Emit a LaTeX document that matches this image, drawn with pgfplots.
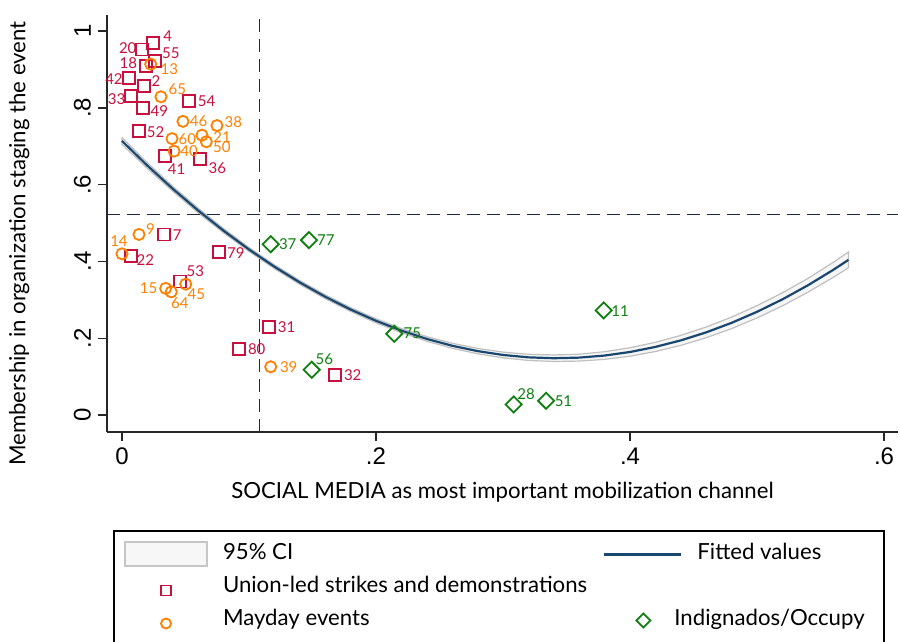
\documentclass[border=0pt]{standalone}
\usepackage{fontspec}
\setmainfont{Lato}
\newfontfamily\tickfont{Liberation Sans}
\usepackage{pgfplots}
\pgfplotsset{compat=1.18}
\usepackage{pgfplotstable}

\definecolor{cran}{RGB}{200,16,62}
\definecolor{orng}{RGB}{255,128,0}
\definecolor{grn}{RGB}{16,128,16}
\definecolor{navy}{RGB}{26,71,111}
\definecolor{dnavy}{RGB}{30,40,70}

\pgfplotstableread{
x y lab dx dy
0.0247 0.970 4 7.2 3.3
0.0160 0.952 20 -7.3 0.5
0.0262 0.922 55 7.8 3.8
0.0187 0.910 18 -8.7 1.2
0.0055 0.877 42 -7.5 -0.3
0.0173 0.858 2 6.0 2.2
0.0068 0.832 33 -7.0 -1.7
0.0525 0.818 54 9.0 0
0.0165 0.799 49 8.2 -1.5
0.0134 0.739 52 8.3 -0.5
0.0336 0.674 41 6.0 -6.5
0.0612 0.666 36 8.8 -4.5
0.0333 0.4705 7 6.5 -0.3
0.0071 0.415 22 7.2 -2.2
0.0766 0.4245 79 8.3 -0.5
0.0457 0.348 53 7.7 5.3
0.1157 0.230 31 8.8 0
0.0919 0.1727 80 9.0 0
0.1675 0.105 32 9.0 -0.3
}\union

\pgfplotstableread{
x y lab dx dy
0.0226 0.914 13 9.3 -2.5
0.0307 0.829 65 8.2 3.7
0.0480 0.765 46 7.8 0
0.0748 0.754 38 8.2 1.5
0.0394 0.720 60 7.7 0
0.0630 0.729 21 10.0 -0.8
0.0664 0.712 50 7.8 -2.8
0.0410 0.6875 40 7.5 0
0.0134 0.4705 9 5.7 2.5
0.0000 0.420 14 -1.5 6.3
0.0502 0.341 45 5.3 -5.2
0.0344 0.330 15 -8.5 0
0.0388 0.321 64 4.3 -5.5
0.1171 0.1258 39 9.0 -0.3
}\mayday

\pgfplotstableread{
x y lab dx dy
0.1171 0.445 37 8.5 0
0.1472 0.4557 77 8.5 0
0.3793 0.2726 11 8.2 -0.3
0.2144 0.2118 75 9.0 0.3
0.1494 0.118 56 6.3 5.5
0.3084 0.0278 28 6.2 5.0
0.3339 0.0373 51 8.7 -0.2
}\indig

\pgfplotsset{
  lbl/.style={
    nodes near coords,
    point meta=explicit symbolic,
    visualization depends on={\thisrow{dx}\as\lbdx},
    visualization depends on={\thisrow{dy}\as\lbdy},
    nodes near coords align={center},
    every node near coord/.append style={anchor=center, inner sep=0pt,
      xshift=\lbdx pt, yshift=\lbdy pt, text=#1,
      font=\fontsize{7.5}{8}\selectfont},
  },
}

\begin{document}
\begin{tikzpicture}
\begin{axis}[
  name=ax,
  scale only axis,
  width=395.5pt, height=208.5pt,
  xmin=-0.0118, xmax=0.611, ymin=-0.044, ymax=1.042,
  axis x line*=bottom, axis y line*=left,
  axis line style={line width=0.7pt, black!85},
  xtick={0,0.2,0.4,0.6}, xticklabels={0,.2,.4,.6},
  ytick={0,0.2,0.4,0.6,0.8,1}, yticklabels={0,.2,.4,.6,.8,1},
  tick align=outside, major tick length=4.5pt,
  tick style={line width=0.7pt, black!85},
  ticklabel style={font=\tickfont\fontsize{12}{12}\selectfont},
  yticklabel style={rotate=90, anchor=south},
  /pgf/number format/assume math mode=true,
  xlabel={SOCIAL MEDIA as most important mobilization channel},
  xlabel style={at={(axis description cs:0.5,-0.144)}, anchor=center, font=\fontsize{11.1}{13}\selectfont},
  ylabel={Membership in organization staging the event},
  ylabel style={at={(axis description cs:-0.111,0.452)}, anchor=center, font=\fontsize{11.1}{13}\selectfont},
  clip=false,
  legend columns=2,
  legend cell align=left,
  legend style={at={(axis description cs:0.0076,-0.235)}, anchor=north west,
    draw=black, line width=1pt, inner xsep=5pt, inner ysep=7pt,
    font=\fontsize{11.1}{13}\selectfont,
    nodes={inner sep=0pt, text height=7.5pt, text depth=2pt, anchor=west},
    row sep=7pt,
    /tikz/every odd column/.style={column sep=7.5pt},
    /tikz/every even column/.style={column sep=8pt}},
]
% 95% CI band
\addplot[forget plot, fill=gray!7, draw=gray!50, line width=0.6pt] coordinates {
(0,0.723) (0.02,0.6572) (0.04,0.5958) (0.06,0.5388) (0.08,0.4857) (0.10,0.4364)
(0.12,0.3915) (0.14,0.3505) (0.16,0.3133) (0.18,0.2800) (0.20,0.2508) (0.22,0.2256)
(0.24,0.2044) (0.26,0.1871) (0.28,0.1737) (0.30,0.1641) (0.32,0.1584) (0.34,0.1566)
(0.36,0.1587) (0.38,0.1651) (0.40,0.1754) (0.42,0.1896) (0.44,0.2076) (0.46,0.2295)
(0.48,0.2553) (0.50,0.2850) (0.52,0.3185) (0.54,0.3559) (0.56,0.3977) (0.572,0.4248)
(0.572,0.3838) (0.56,0.3587) (0.54,0.3199) (0.52,0.2845) (0.50,0.2530) (0.48,0.2253)
(0.46,0.2015) (0.44,0.1816) (0.42,0.1656) (0.40,0.1534) (0.38,0.1451) (0.36,0.1407)
(0.34,0.1396) (0.32,0.1424) (0.30,0.1491) (0.28,0.1597) (0.26,0.1741) (0.24,0.1924)
(0.22,0.2146) (0.20,0.2404) (0.18,0.2700) (0.16,0.3033) (0.14,0.3405) (0.12,0.3815)
(0.10,0.4264) (0.08,0.4747) (0.06,0.5268) (0.04,0.5828) (0.02,0.6422) (0,0.705)
(0,0.723)
};
% fitted values
\addplot[forget plot, navy, line width=1.1pt] coordinates {
(0,0.714) (0.02,0.6497) (0.04,0.5893) (0.06,0.5328) (0.08,0.4802) (0.10,0.4314)
(0.12,0.3865) (0.14,0.3455) (0.16,0.3083) (0.18,0.2750) (0.20,0.2456) (0.22,0.2201)
(0.24,0.1984) (0.26,0.1806) (0.28,0.1667) (0.30,0.1566) (0.32,0.1504) (0.34,0.1481)
(0.36,0.1497) (0.38,0.1551) (0.40,0.1644) (0.42,0.1776) (0.44,0.1946) (0.46,0.2155)
(0.48,0.2403) (0.50,0.2690) (0.52,0.3015) (0.54,0.3379) (0.56,0.3782) (0.572,0.4043)
};
% reference lines
\addplot[forget plot, dnavy, line width=0.65pt, dash pattern=on 6.5pt off 3.5pt] coordinates {(0.108,-0.044) (0.108,1.042)};
\addplot[forget plot, dnavy, line width=0.65pt, dash pattern=on 6.5pt off 3.5pt] coordinates {(-0.0118,0.5227) (0.611,0.5227)};
% scatter groups
\addplot[forget plot, only marks, mark=square, mark size=3pt, cran, line width=0.9pt, lbl=cran]
  table[x=x, y=y, meta=lab] {\union};
\addplot[forget plot, only marks, mark=o, mark size=2.8pt, orng, line width=0.9pt, lbl=orng]
  table[x=x, y=y, meta=lab] {\mayday};
\addplot[forget plot, only marks, mark=square, mark options={rotate=45}, mark size=2.85pt, grn, line width=0.9pt, lbl=grn]
  table[x=x, y=y, meta=lab] {\indig};

% legend
\addlegendimage{legend image code/.code={\draw[overlay, fill=gray!6, draw=gray!45, line width=1pt] (0pt,-6pt) rectangle (41pt,6pt); \path (0pt,-4pt) (41pt,4pt);}}
\addlegendentry{95\% CI}
\addlegendimage{legend image code/.code={\draw[navy, line width=1.1pt] (0pt,0pt) -- (38.5pt,0pt);}}
\addlegendentry{Fitted values}
\addlegendimage{legend image code/.code={\draw[cran, line width=0.9pt] (18pt,-4pt) rectangle (23pt,1pt); \path (0pt,0pt) (41pt,0pt);}}
\addlegendentry{Union-led strikes and demonstrations}
\addlegendimage{empty legend}
\addlegendentry{}
\addlegendimage{legend image code/.code={\draw[orng, line width=0.9pt] (20.5pt,-1.5pt) circle (2.5pt); \path (0pt,0pt) (41pt,0pt);}}
\addlegendentry{Mayday events}
\addlegendimage{legend image code/.code={\draw[grn, line width=0.9pt] (19.5pt,-3.5pt) -- (23pt,0pt) -- (19.5pt,3.5pt) -- (16pt,0pt) -- cycle; \path (0pt,0pt) (38.5pt,0pt);}}
\addlegendentry{\hspace*{-11.5pt}Indignados/Occupy\hspace*{4.5pt}}
\end{axis}
\pgfresetboundingbox
\path[use as bounding box] ([shift={(-53.5pt,-105pt)}]ax.south west) rectangle ([shift={(396.5pt,216pt)}]ax.south west);
\end{tikzpicture}
\end{document}
